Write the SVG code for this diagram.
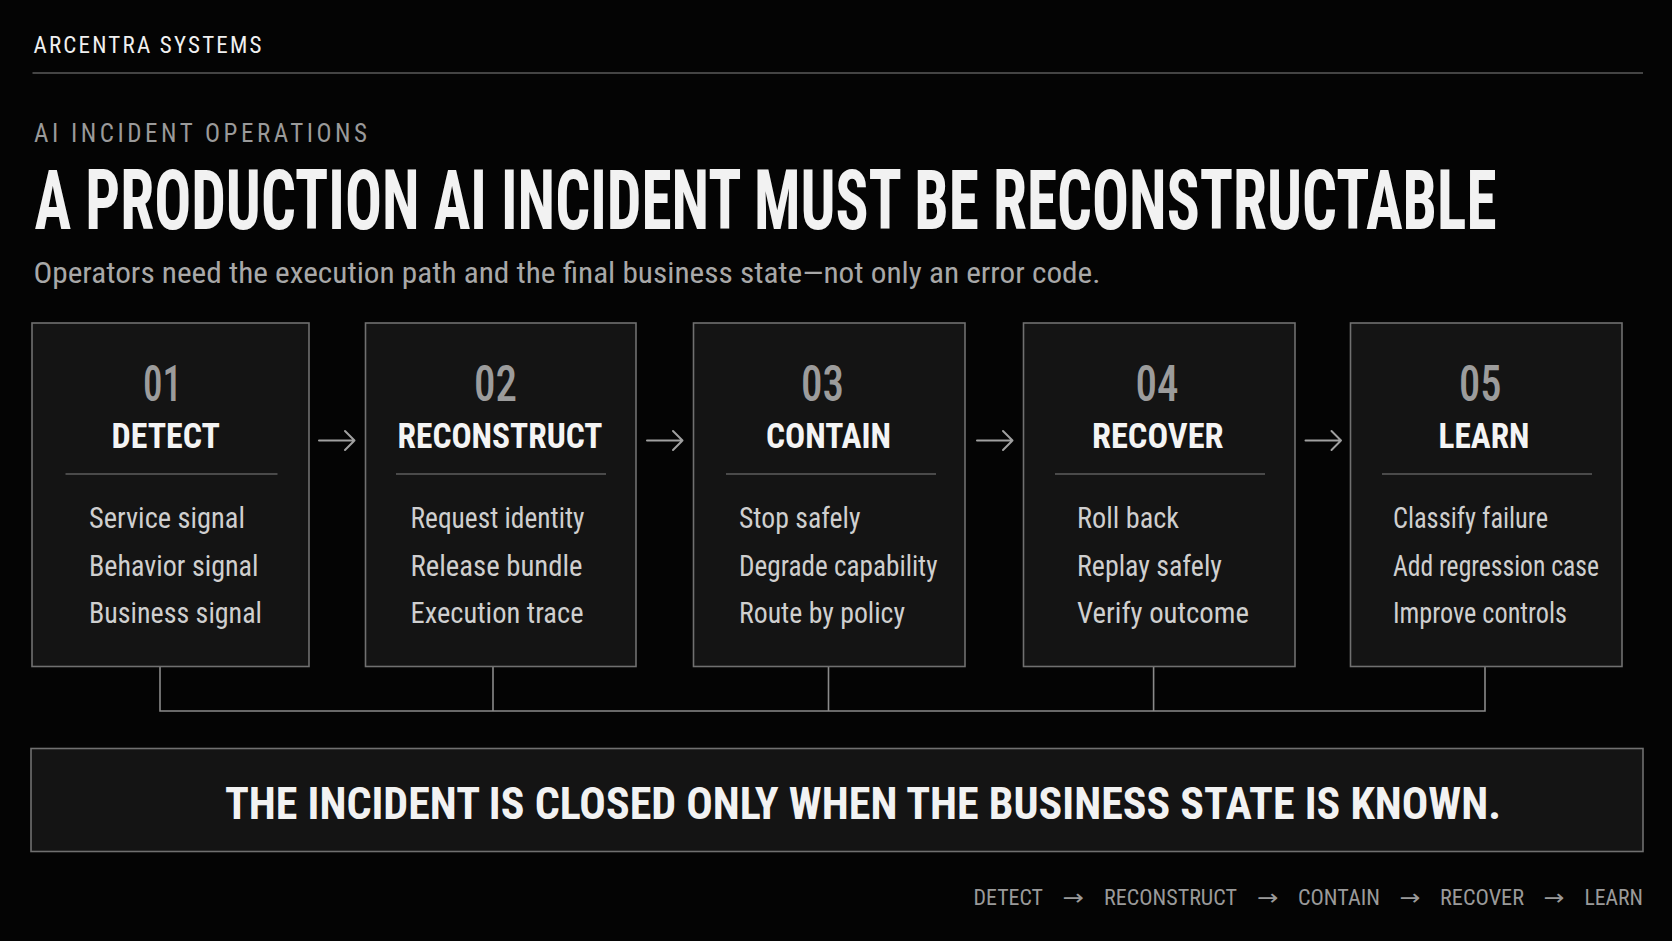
<svg xmlns="http://www.w3.org/2000/svg" width="1672" height="941" viewBox="0 0 1672 941">
<style>
text{font-family:"Roboto Condensed","Liberation Sans Narrow","DejaVu Sans Condensed","Liberation Sans",sans-serif}
.box{fill:#141414;stroke:#707070;stroke-width:1.6}
.num{font-size:50px;fill:#9c9c9c;font-weight:500}
.ttl{font-size:35px;font-weight:bold;fill:#f4f4f4}
.div{stroke:#5c5c5c;stroke-width:1.5}
.item{font-size:30px;fill:#cfcfcf}
.conn{stroke:#8a8a8a;stroke-width:1.6;fill:none}
.arr{stroke:#a0a0a0;stroke-width:2;fill:none;stroke-linecap:round;stroke-linejoin:round}
.foot{font-size:22px;fill:#9a9a9a}
</style>
<rect x="0" y="0" width="1672" height="941" fill="#040404"/>

<g id="header">
<text x="33.5" y="52.5" font-size="23" fill="#f0f0f0" textLength="228" lengthAdjust="spacing">ARCENTRA SYSTEMS</text>
<line x1="32.5" y1="73" x2="1643" y2="73" stroke="#5a5a5a" stroke-width="1.5"/>
<text x="34" y="141.5" font-size="25" fill="#9a9a9a" textLength="333" lengthAdjust="spacing">AI INCIDENT OPERATIONS</text>
<text x="34.5" y="228.5" font-size="84" font-weight="bold" fill="#f2f2f2" textLength="1462" lengthAdjust="spacingAndGlyphs">A PRODUCTION AI INCIDENT MUST BE RECONSTRUCTABLE</text>
<text x="33.5" y="282.5" font-size="29" fill="#a8a8a8" textLength="1067" lengthAdjust="spacingAndGlyphs">Operators need the execution path and the final business state—not only an error code.</text>
</g>

<g id="connectors">
<path class="conn" d="M160 666.5 V711 H1485 V666.5 M493 666.5 V711 M828.5 666.5 V711 M1153.6 666.5 V711"/>
<path class="arr" d="M319 440.5 H354.5 M345 431 L354.5 440.5 L345 450"/>
<path class="arr" d="M647 440.5 H682.5 M673 431 L682.5 440.5 L673 450"/>
<path class="arr" d="M977 440.5 H1012.5 M1003 431 L1012.5 440.5 L1003 450"/>
<path class="arr" d="M1305.5 440.5 H1341 M1331.5 431 L1341 440.5 L1331.5 450"/>
</g>

<g id="node-detect">
<rect class="box" x="32" y="323" width="277" height="343.5"/>
<text class="num" x="143" y="401" textLength="39" lengthAdjust="spacingAndGlyphs">01</text>
<text class="ttl" x="111.5" y="447.5" textLength="108.5" lengthAdjust="spacingAndGlyphs">DETECT</text>
<line class="div" x1="65.5" y1="474" x2="277.5" y2="474"/>
<text class="item" x="89" y="528" textLength="156" lengthAdjust="spacingAndGlyphs">Service signal</text>
<text class="item" x="89" y="575.5" textLength="169.5" lengthAdjust="spacingAndGlyphs">Behavior signal</text>
<text class="item" x="89" y="623" textLength="173" lengthAdjust="spacingAndGlyphs">Business signal</text>
</g>

<g id="node-reconstruct">
<rect class="box" x="365.5" y="323" width="270.5" height="343.5"/>
<text class="num" x="474" y="401" textLength="43" lengthAdjust="spacingAndGlyphs">02</text>
<text class="ttl" x="397.5" y="447.5" textLength="205" lengthAdjust="spacingAndGlyphs">RECONSTRUCT</text>
<line class="div" x1="396" y1="474" x2="606" y2="474"/>
<text class="item" x="410.5" y="528" textLength="174" lengthAdjust="spacingAndGlyphs">Request identity</text>
<text class="item" x="410.5" y="575.5" textLength="172" lengthAdjust="spacingAndGlyphs">Release bundle</text>
<text class="item" x="410.5" y="623" textLength="173" lengthAdjust="spacingAndGlyphs">Execution trace</text>
</g>

<g id="node-contain">
<rect class="box" x="693.5" y="323" width="271.5" height="343.5"/>
<text class="num" x="801" y="401" textLength="43" lengthAdjust="spacingAndGlyphs">03</text>
<text class="ttl" x="766" y="447.5" textLength="125" lengthAdjust="spacingAndGlyphs">CONTAIN</text>
<line class="div" x1="726" y1="474" x2="936" y2="474"/>
<text class="item" x="739" y="528" textLength="121.5" lengthAdjust="spacingAndGlyphs">Stop safely</text>
<text class="item" x="739" y="575.5" textLength="198.5" lengthAdjust="spacingAndGlyphs">Degrade capability</text>
<text class="item" x="739" y="623" textLength="166" lengthAdjust="spacingAndGlyphs">Route by policy</text>
</g>

<g id="node-recover">
<rect class="box" x="1023.5" y="323" width="271.5" height="343.5"/>
<text class="num" x="1135.5" y="401" textLength="43" lengthAdjust="spacingAndGlyphs">04</text>
<text class="ttl" x="1092" y="447.5" textLength="131.5" lengthAdjust="spacingAndGlyphs">RECOVER</text>
<line class="div" x1="1055" y1="474" x2="1265" y2="474"/>
<text class="item" x="1077" y="528" textLength="102" lengthAdjust="spacingAndGlyphs">Roll back</text>
<text class="item" x="1077" y="575.5" textLength="145" lengthAdjust="spacingAndGlyphs">Replay safely</text>
<text class="item" x="1077" y="623" textLength="172" lengthAdjust="spacingAndGlyphs">Verify outcome</text>
</g>

<g id="node-learn">
<rect class="box" x="1350.5" y="323" width="271.5" height="343.5"/>
<text class="num" x="1459" y="401" textLength="42.5" lengthAdjust="spacingAndGlyphs">05</text>
<text class="ttl" x="1438.5" y="447.5" textLength="91" lengthAdjust="spacingAndGlyphs">LEARN</text>
<line class="div" x1="1382" y1="474" x2="1592" y2="474"/>
<text class="item" x="1393" y="528" textLength="155" lengthAdjust="spacingAndGlyphs">Classify failure</text>
<text class="item" x="1393" y="575.5" textLength="206" lengthAdjust="spacingAndGlyphs">Add regression case</text>
<text class="item" x="1393" y="623" textLength="174" lengthAdjust="spacingAndGlyphs">Improve controls</text>
</g>

<g id="banner">
<rect class="box" x="31" y="748.5" width="1612" height="103"/>
<text x="225" y="818.5" font-size="44" font-weight="bold" fill="#f2f2f2" textLength="1276" lengthAdjust="spacingAndGlyphs">THE INCIDENT IS CLOSED ONLY WHEN THE BUSINESS STATE IS KNOWN.</text>
</g>

<g id="footer">
<text class="foot" x="973.5" y="905" textLength="69.5" lengthAdjust="spacingAndGlyphs">DETECT</text>
<text class="foot" x="1062.5" y="905" textLength="21.5" lengthAdjust="spacingAndGlyphs">→</text>
<text class="foot" x="1104" y="905" textLength="133" lengthAdjust="spacingAndGlyphs">RECONSTRUCT</text>
<text class="foot" x="1257" y="905" textLength="21.5" lengthAdjust="spacingAndGlyphs">→</text>
<text class="foot" x="1298" y="905" textLength="82" lengthAdjust="spacingAndGlyphs">CONTAIN</text>
<text class="foot" x="1399.5" y="905" textLength="21" lengthAdjust="spacingAndGlyphs">→</text>
<text class="foot" x="1440" y="905" textLength="84" lengthAdjust="spacingAndGlyphs">RECOVER</text>
<text class="foot" x="1543.5" y="905" textLength="21" lengthAdjust="spacingAndGlyphs">→</text>
<text class="foot" x="1584.5" y="905" textLength="58.5" lengthAdjust="spacingAndGlyphs">LEARN</text>
</g>
</svg>
